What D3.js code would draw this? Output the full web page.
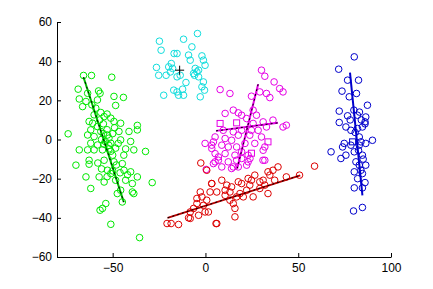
<!DOCTYPE html>
<html>
<head>
<meta charset="utf-8">
<script src="https://cdn.jsdelivr.net/npm/d3@7"></script>
<style>
  body { margin: 0; background: #fff; }
  .tick text { font-family: "Liberation Sans", Arial, sans-serif; font-size: 12px; fill: #000; }
</style>
</head>
<body>
<div id="wrapper"></div>
<script>
// cluster points [x, y]
const greenPts = [
  [-65.7,32.7],[-61.4,32.7],[-50.5,31.8],[-68.6,25.7],[-63.5,23.6],[-57.6,24.8],[-56.8,23.6],[-68,20.7],
  [-64.4,19.4],[-58.2,20.2],[-49.3,22],[-44.2,21.5],[-66.2,16.8],[-61.2,17.7],[-59.1,16],[-48.4,17.4],
  [-56.4,13.8],[-60,12.6],[-51,10.9],[-49.3,9.2],[-54.6,11.7],[-62.7,9.2],[-60.8,8.3],[-45.7,8.3],
  [-41.2,4.1],[-36.7,7.2],[-36.7,4.9],[-74,2.9],[-46.6,4.1],[-58.2,6.6],[-61.8,4.9],[-56.4,4.1],
  [-63.5,2.3],[-60,1.5],[-52.8,2.3],[-52,0.7],[-45.7,-0.2],[-40.3,-1],[-61.8,-1.9],[-58.2,-2.8],
  [-54.6,-2.4],[-51,-1.9],[-68,-5.3],[-63.5,-5.3],[-60,-5.3],[-55.5,-5.3],[-52,-4.8],[-48.4,-4.4],
  [-43,-4.8],[-38.6,-5.3],[-32.3,-6.1],[-69.8,-13.1],[-62.7,-10.6],[-62.7,-12.6],[-54.6,-10.6],
  [-49.3,-11.4],[-44.8,-12.3],[-52.8,-15.7],[-51,-17.4],[-43.9,-15.7],[-40.3,-16.5],[-36.7,-19.1],
  [-64.4,-19.1],[-57.3,-19.1],[-54.6,-21.7],[-48.4,-20.8],[-43,-20.8],[-39.4,-22.5],[-28.7,-22],
  [-61.8,-25],[-47.5,-27.6],[-45.7,-25.9],[-39.4,-26.8],[-38.6,-27.6],[-44.8,-31.9],[-53.7,-32.7],
  [-55.5,-35.2],[-56.8,-36.1],[-51,-43.3],[-35.5,-50.1],
  [-53,5],[-55,8],[-50,3],[-56,0],[-52,-3],[-54,-1],[-49,6],[-57,10],[-51,-6],[-48,-13],[-53,-19],
  [-50,-16],[-46,-17],[-42,-18],[-58,-12],[-56,-15],[-55,3],[-50,-8],[-47,-2],[-53,13],[-44,-8]
]
const cyanPts = [
  [-24.8,50.2],[-11.8,51.2],[-4.3,54.1],[-23.9,45.6],[-7.3,47.3],[-16.9,43.9],[-15.3,43.9],[-9.1,43.1],
  [-1.9,42.7],[-1.1,40.5],[-8.2,40.5],[-26.4,36.8],[-18.4,38.8],[-19.8,37.1],[-17.7,36.3],[-5.5,36.3],
  [-3.7,35.4],[-0.2,37.9],[-25.2,32.8],[-21.2,32.8],[-15.3,32],[-13.6,32.8],[-5.9,32.8],[-3.7,32],
  [-1.1,29.4],[-10.5,29.1],[-17.1,25.2],[-15.3,24.3],[-12.3,25.7],[-14.5,22.6],[-11.8,22.6],
  [-22.5,22.6],[-1.9,26.9],[-0.5,25.2],[-2.8,21.8],[-6.4,33.7],[-4.6,34.5],[-18.9,34.5]
]
const magentaPts = [
  [30.2,35.4],[32,32.3],[37,29.4],[40,26],[41.8,24.3],[7.9,25.5],[13.2,23.5],[24.8,22.1],[29.3,24.3],
  [32.9,23.5],[34.7,21.4],[10.6,13.3],[15,15],[17.7,13.6],[19.5,12.4],[25.7,15],[27.5,12.4],
  [22.2,10.7],[25.7,8.2],[31.1,9],[36.4,9.9],[41.8,6.4],[43.6,7.3],[9.6,4.7],[15,3.9],[19.5,4.7],
  [24.8,4.7],[28.4,4.7],[32.9,6.4],[5.2,1.3],[10.6,0.5],[14.1,-0.4],[17.7,2.2],[23.9,2.2],[30.2,1.3],
  [3.4,-2.9],[8.8,-2.9],[12.3,-3.8],[16.8,-3.8],[21.3,-2],[26.6,-2],[32,-3.8],[5.2,-7.2],[10.6,-7.2],
  [15.9,-8],[19.5,-6.3],[23,-8],[31.1,-5.5],[7,-10.6],[12.3,-11.4],[16.8,-10.6],[19.5,-9.7],[23,-11.4],
  [32,-10.6],[8.8,-14],[14.1,-14.8],[17.7,-14],[22.2,-13.1],[4.3,-1.2],[0.4,-15.3],[3.4,-4.6],
  [5.2,-11.4],[4.3,-12.3],[7,-8.9],[15,-14],[24,-9.7],[31,-10.6],[-0.2,-2]
]
const magentaSq = [[7.9,8.2],[16.8,8.5],[33.7,-1.2],[24.8,-7]]
const redPts = [
  [-20.7,-42.9],[-18.5,-42.9],[-14.5,-43.4],[-9.1,-40],[-6.4,-35.2],[-4.6,-30.1],[-1.9,-29.3],
  [0.7,-31],[-1.1,-33.6],[-0.2,-37],[3.4,-22.5],[6.1,-26.8],[8.8,-20.8],[10.6,-25.9],[13.2,-26.8],
  [14.1,-24.2],[16.8,-29.3],[18.6,-27.6],[19.5,-22.5],[23.9,-23.3],[26.6,-18.2],[25.7,-29.3],
  [29.3,-21.6],[31.1,-20.8],[33.7,-16.5],[34.7,-18.2],[37.3,-20.8],[39.1,-14],[43.6,-19.1],[50.7,-18.2],
  [33.7,-27.6],[22.2,-25.9],[20.4,-29.3],[15,-32.7],[15.9,-35.2],[15.9,-39.5],[6.1,-42.9],[13.2,-31],
  [10.6,-28.5],[-4.6,-32.7],[2.5,-26.8],[29.3,-25],[23,-19.9],[17.7,-21.6],[-2.8,-26.8],[-8.2,-37],
  [-3.7,-38.7],[11.5,-23.3],[24.8,-20.8],[32,-23.3],[36.4,-15.7],[58.8,-13.6],[-8.2,-40.3],
  [1.6,-37],[5.7,-42.9],[-2.5,-12],[0.7,-15.7],[3.4,-22.5]
]
const bluePts = [
  [80.2,42.2],[71.8,35.9],[76.6,30.3],[82.5,30.3],[73.6,24.7],[77.5,21.8],[81.4,23.5],[87.3,17.5],
  [72.1,14.5],[76.6,12.1],[81.9,12.4],[86.4,11.5],[86,9],[72.1,8.7],[75.7,6.4],[78.4,4.7],[81.9,5.6],
  [84.6,6.4],[80.7,3.6],[82.9,1.3],[74.8,-2],[83.8,-1.2],[86.4,-2],[90,-0.4],[67.7,-6.3],
  [73.9,-3.8],[75.7,-8],[73,-9.7],[80.2,-6.3],[82.5,-5.5],[84.6,-8],[81.1,-11.4],[82.9,-13.1],
  [86.4,-13.1],[83.8,-15.7],[80.2,-16.5],[84.6,-17.4],[80.2,-24.7],[84.6,-24.7],[79.8,-36.5],
  [84.6,-34.7],[78.4,-2.9],[82.9,-2.9],[84,10],[86,8],[83,14],[80,15],[78,10],[85,-10],[82,-20],[86,-22]
]
const blueSq = [[79.3,-1.2]]

// principal axis lines
const greenAxes = [[[-65.7,31.8],[-44,-32]]]
const magentaAxes = [[[28.4,28.2],[17.1,-14.8]], [[5.7,4.4],[39.1,8.5]]]
const redAxes = [[[-20.4,-40],[51.1,-18.3]]]
const blueAxes = [[[77.9,34.2],[84.6,-28.5]]]
const cyanCenter = [-13.9,35.4]

const xTicks = [-50, 0, 50, 100]
const yTicks = [-60, -40, -20, 0, 20, 40, 60]

const dimensions = {
  width: 433,
  height: 289,
  margin: { top: 22, right: 42, bottom: 32, left: 57 }
}
dimensions.boundedWidth = dimensions.width - dimensions.margin.left - dimensions.margin.right
dimensions.boundedHeight = dimensions.height - dimensions.margin.top - dimensions.margin.bottom

const wrapper = d3.select("#wrapper")
  .append("svg")
  .attr("width", dimensions.width)
  .attr("height", dimensions.height)

const bounds = wrapper.append("g")
  .attr("transform", `translate(${dimensions.margin.left},${dimensions.margin.top})`)

const xScale = d3.scaleLinear()
  .domain([-80, 100])
  .range([0, dimensions.boundedWidth])

const yScale = d3.scaleLinear()
  .domain([-60, 60])
  .range([dimensions.boundedHeight, 0])

const line = d3.line()
  .x(d => xScale(d[0]))
  .y(d => yScale(d[1]))

function drawCircles(pts, color) {
  bounds.append("g").selectAll("circle")
    .data(pts)
    .join("circle")
    .attr("cx", d => xScale(d[0]))
    .attr("cy", d => yScale(d[1]))
    .attr("r", 3.3)
    .attr("fill", "none")
    .attr("stroke", color)
    .attr("stroke-width", 1)
}

function drawSquares(pts, color) {
  bounds.append("g").selectAll("rect")
    .data(pts)
    .join("rect")
    .attr("x", d => xScale(d[0]) - 3)
    .attr("y", d => yScale(d[1]) - 3)
    .attr("width", 6)
    .attr("height", 6)
    .attr("fill", "none")
    .attr("stroke", color)
    .attr("stroke-width", 1)
}

function drawAxes(segs, color, dashed) {
  const g = bounds.append("g")
  g.selectAll(".solid")
    .data(segs)
    .join("path")
    .attr("d", line)
    .attr("fill", "none")
    .attr("stroke", color)
    .attr("stroke-width", 2)
  if (dashed) {
    g.selectAll(".dash")
      .data(segs)
      .join("path")
      .attr("d", line)
      .attr("fill", "none")
      .attr("stroke", "#000")
      .attr("stroke-width", 1)
      .attr("stroke-dasharray", "2,3")
  }
}

function drawPlus(c, size) {
  const cx = xScale(c[0]), cy = yScale(c[1])
  bounds.append("path")
    .attr("d", `M${cx - size},${cy}H${cx + size}M${cx},${cy - size}V${cy + size}`)
    .attr("stroke", "#000")
    .attr("stroke-width", 1)
}

// draw data
drawCircles(greenPts, "#00e800")
drawAxes(greenAxes, "#00c000", true)

drawCircles(cyanPts, "#11dddd")
drawPlus(cyanCenter, 4.5)

drawCircles(magentaPts, "#e600e6")
drawSquares(magentaSq, "#e600e6")
drawAxes(magentaAxes, "#e600e6", true)

drawCircles(redPts, "#dd0000")
drawAxes(redAxes, "#bb0000", true)

drawCircles(bluePts, "#0000cc")
drawSquares(blueSq, "#0000cc")
drawAxes(blueAxes, "#0000cc", false)

// draw axes
const xAxisGenerator = d3.axisBottom(xScale)
  .tickValues(xTicks)
  .tickSizeInner(-4)
  .tickSizeOuter(0)
  .tickPadding(6)

const xAxis = bounds.append("g")
  .attr("transform", `translate(0,${dimensions.boundedHeight})`)
  .call(xAxisGenerator)

const yAxisGenerator = d3.axisLeft(yScale)
  .tickValues(yTicks)
  .tickSizeInner(-4)
  .tickSizeOuter(0)
  .tickPadding(5)

const yAxis = bounds.append("g")
  .call(yAxisGenerator)

bounds.selectAll(".domain, .tick line")
  .attr("stroke", "#000")
  .attr("stroke-width", 1)
</script>
</body>
</html>
